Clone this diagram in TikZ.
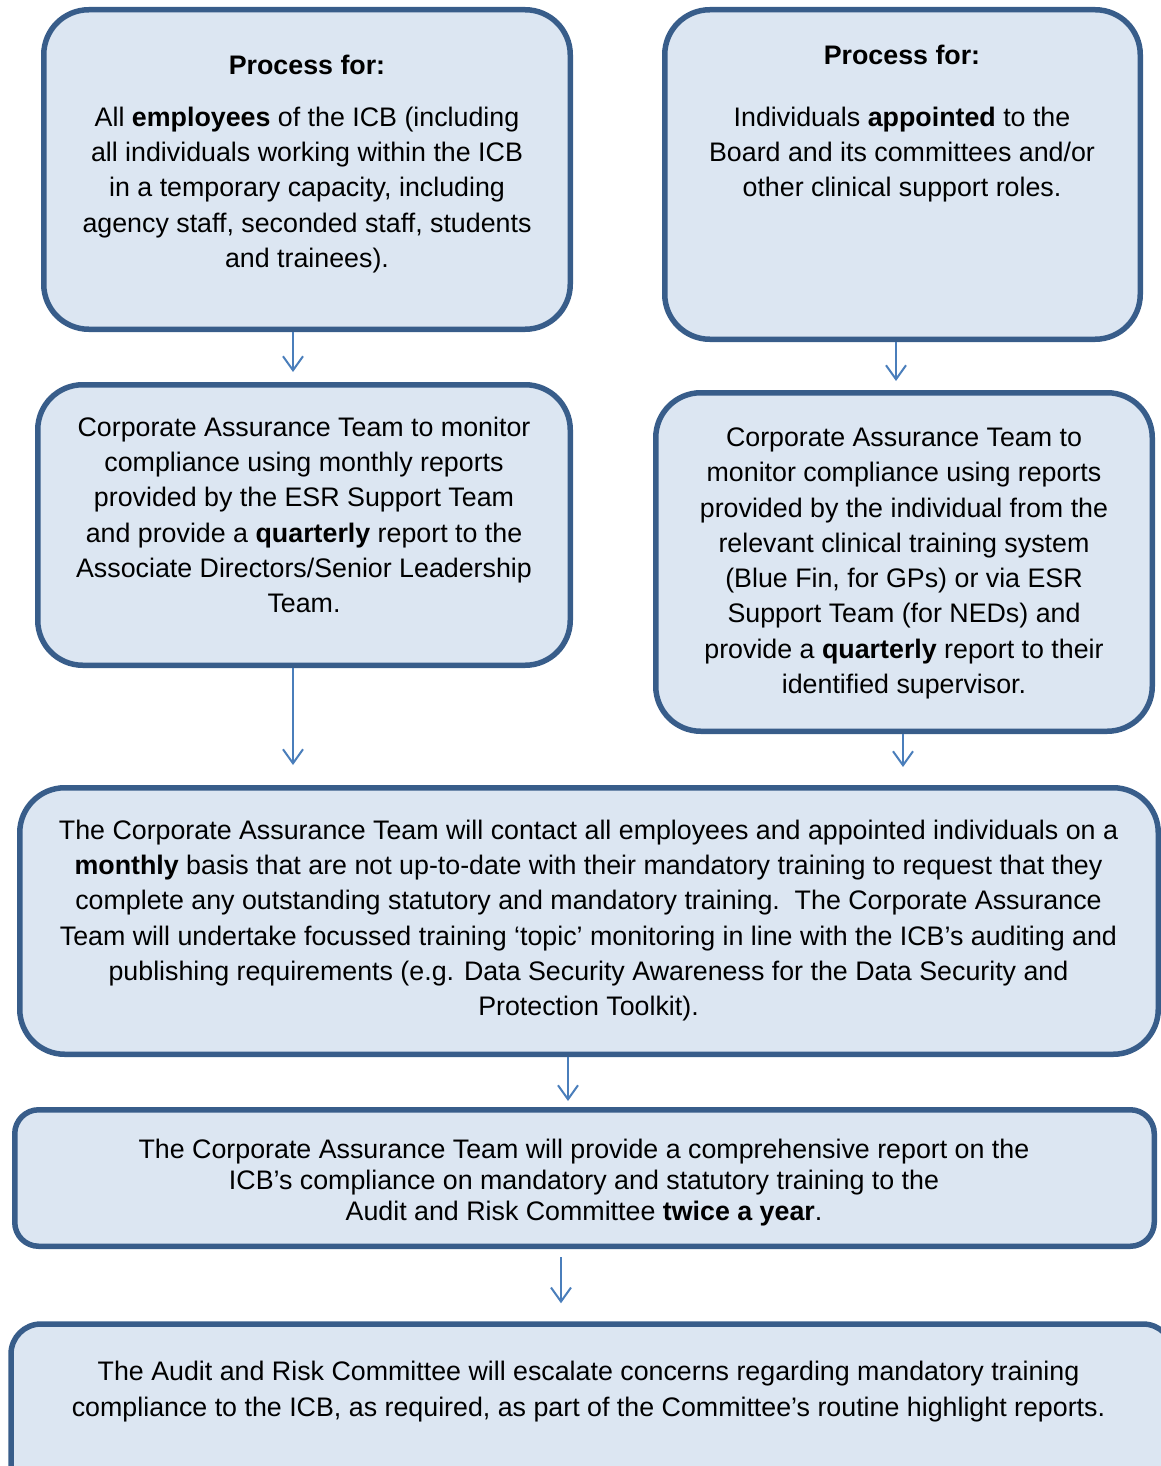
\documentclass[tikz,border=0pt]{standalone}
\usepackage{fontspec}
\setmainfont{Liberation Sans}
\usetikzlibrary{arrows.meta}
\definecolor{boxfill}{HTML}{DCE6F2}
\definecolor{boxline}{HTML}{385D8A}
\definecolor{arrline}{HTML}{4A7EBB}
\begin{document}
\begin{tikzpicture}[x=1pt, y=-1pt,
    box/.style={draw=boxline, fill=boxfill, line width=5.5pt, rounded corners=45pt, inner sep=0pt},
    txt/.style={anchor=north, align=center, inner sep=0pt, font=\fontsize{26.8}{35.3}\selectfont},
    arr/.style={draw=arrline, line width=2pt, -{Straight Barb[length=14pt, width=20pt]}}]
    \useasboundingbox (0,0) rectangle (1160,1466);
    % boxes
    \node [box, minimum width=526.5pt, minimum height=319.5pt] (empbox) at (307,169.5) {};
    \node [box, minimum width=475.5pt, minimum height=329.5pt] (apptbox) at (902.5,174.5) {};
    \node [box, minimum width=532.5pt, minimum height=280.5pt] (empmon) at (304,525) {};
    \node [box, minimum width=496.5pt, minimum height=338.5pt] (apptmon) at (904,562) {};
    \node [box, minimum width=1138.5pt, minimum height=266.5pt] (contact) at (589,921) {};
    \node [box, rounded corners=24pt, minimum width=1139.5pt, minimum height=136.5pt] (report) at (584.5,1178) {};
    \node [box, rounded corners=30pt, minimum width=1162pt, minimum height=180pt] (escalate) at (592,1414) {};
    % texts
    \node [txt] (emptext) at (307,54.5) {\textbf{Process for:}\\[16.7pt]
        All \textbf{employees} of the ICB (including\\
        all individuals working within the ICB\\
        in a temporary capacity, including\\
        agency staff, seconded staff, students\\
        and trainees).};
    \node [txt] (appttext) at (902,44.5) {\textbf{Process for:}\\[26.7pt]
        Individuals \textbf{appointed} to the\\
        Board and its committees and/or\\
        other clinical support roles.};
    \node [txt] (empmontext) at (304,416.5) {Corporate Assurance Team to monitor\\
        compliance using monthly reports\\
        provided by the ESR Support Team\\
        and provide a \textbf{quarterly} report to the\\
        Associate Directors/Senior Leadership\\
        Team.};
    \node [txt] (apptmontext) at (904,427.5) {Corporate Assurance Team to\\
        monitor compliance using reports\\
        provided by the individual from the\\
        relevant clinical training system\\
        (Blue Fin, for GPs) or via ESR\\
        Support Team (for NEDs) and\\
        provide a \textbf{quarterly} report to their\\
        identified supervisor.};
    \node [txt] (contacttext) at (588.5,819.5) {The Corporate Assurance Team will contact all employees and appointed individuals on a\\
        \textbf{monthly} basis that are not up-to-date with their mandatory training to request that they\\
        complete any outstanding statutory and mandatory training.\ \ The Corporate Assurance\\
        Team will undertake focussed training ‘topic’ monitoring in line with the ICB’s auditing and\\
        publishing requirements (e.g. Data Security Awareness for the Data Security and\\
        Protection Toolkit).};
    \node [txt, font=\fontsize{26.8}{31}\selectfont] (reporttext) at (584,1138.5) {The Corporate Assurance Team will provide a comprehensive report on the\\
        ICB’s compliance on mandatory and statutory training to the\\
        Audit and Risk Committee \textbf{twice a year}.};
    \node [txt, font=\fontsize{26.8}{36}\selectfont] (escalatetext) at (588.5,1360.5) {The Audit and Risk Committee will escalate concerns regarding mandatory training\\
        compliance to the ICB, as required, as part of the Committee’s routine highlight reports.};
    % arrows
    \draw [arr, shorten >=10pt] ([xshift=-14pt]empbox.south) -- ([xshift=-14pt]empbox.south |- empmon.north);
    \draw [arr, shorten >=9pt] ([xshift=-6.5pt]apptbox.south) -- ([xshift=-6.5pt]apptbox.south |- apptmon.north);
    \draw [arr, shorten >=20pt] ([xshift=-11pt]empmon.south) -- ([xshift=-11pt]empmon.south |- contact.north);
    \draw [arr, shorten >=18pt] ([xshift=-1pt]apptmon.south) -- ([xshift=-1pt]apptmon.south |- contact.north);
    \draw [arr, shorten >=6pt] ([xshift=-21pt]contact.south) -- ([xshift=-21pt]contact.south |- report.north);
    \draw [arr, shorten <=8pt, shorten >=18pt] ([xshift=-23.5pt]report.south) -- ([xshift=-23.5pt]report.south |- escalate.north);
\end{tikzpicture}
\end{document}
